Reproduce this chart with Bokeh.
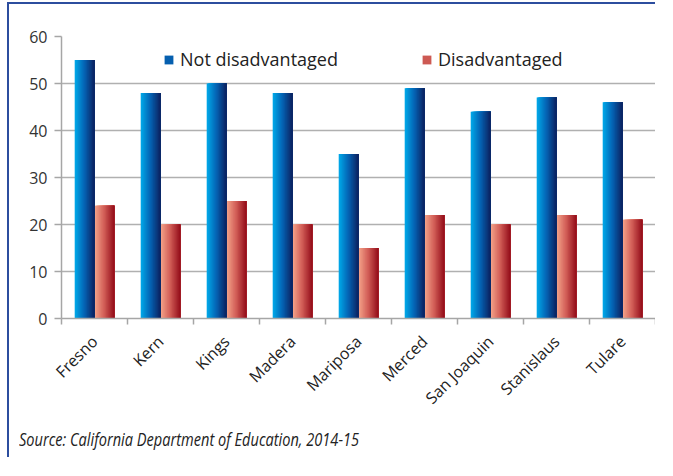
import math
from bokeh.plotting import figure
from bokeh.models import Range1d, FixedTicker, Legend, LegendItem, ColumnDataSource, Div, Spacer
from bokeh.transform import dodge
from bokeh.layouts import column, row
from bokeh.embed import file_html
from bokeh.resources import INLINE

# ---- data ----
counties = ["Fresno", "Kern", "Kings", "Madera", "Mariposa", "Merced",
            "San Joaquin", "Stanislaus", "Tulare"]
not_disadvantaged = [55, 48, 50, 48, 35, 49, 44, 47, 46]
disadvantaged = [24, 20, 25, 20, 15, 22, 20, 22, 21]
y_ticks = [0, 10, 20, 30, 40, 50, 60]
series_names = ["Not disadvantaged", "Disadvantaged"]
source_note = "Source: California Department of Education, 2014-15"

idx = list(range(len(counties)))
src = ColumnDataSource(dict(x=idx, nd=not_disadvantaged, d=disadvantaged))

# ---- styling ----
BLUE_STOPS = [(0, 168, 232), (5, 98, 178), (12, 36, 98)]
RED_STOPS = [(244, 162, 136), (208, 92, 86), (150, 16, 28)]
GRID = "#b0b0b0"
AXIS = "#a6a6a6"
FRAME_BLUE = "#2c4d9e"


def grad(stops, t):
    seg = t * (len(stops) - 1)
    i = min(int(seg), len(stops) - 2)
    f = seg - i
    a, b = stops[i], stops[i + 1]
    c = [round(a[j] + (b[j] - a[j]) * f) for j in range(3)]
    return "#%02x%02x%02x" % tuple(c)


p = figure(width=646, height=415, output_backend="svg", toolbar_location=None,
           x_range=Range1d(-0.5, len(counties) - 0.5), y_range=Range1d(0, 60),
           min_border_left=52, min_border_right=0, min_border_top=32,
           min_border_bottom=95)
p.outline_line_color = None
p.background_fill_color = "white"
p.border_fill_color = "white"

BW = 0.3
N = 24
blue_rs, red_rs = [], []
for k in range(N):
    t = k / (N - 1)
    rb = p.quad(left=dodge("x", -BW + k * BW / N), right=dodge("x", 0.0),
                bottom=0, top="nd", source=src,
                fill_color=grad(BLUE_STOPS, t), line_color=None)
    rr = p.quad(left=dodge("x", k * BW / N), right=dodge("x", BW),
                bottom=0, top="d", source=src,
                fill_color=grad(RED_STOPS, t), line_color=None)
    blue_rs.append(rb)
    red_rs.append(rr)

# axes
p.xaxis.ticker = FixedTicker(ticks=idx, minor_ticks=[i - 0.5 for i in range(len(counties) + 1)])
p.xaxis.major_label_overrides = {i: c for i, c in enumerate(counties)}
p.xaxis.major_label_orientation = math.pi / 4
p.xaxis.major_tick_line_color = None
p.xaxis.major_tick_out = 0
p.xaxis.major_tick_in = 0
p.xaxis.minor_tick_out = 6
p.xaxis.minor_tick_in = 0
p.xaxis.minor_tick_line_color = AXIS
p.xaxis.minor_tick_line_width = 1.5
p.xaxis.axis_line_color = AXIS
p.xaxis.axis_line_width = 1.5
p.xaxis.major_label_standoff = 14
p.xaxis.major_label_text_font = "Open Sans"
p.xaxis.major_label_text_font_size = "16px"
p.xaxis.major_label_text_color = "#222222"

p.yaxis.ticker = FixedTicker(ticks=y_ticks)
p.yaxis.major_tick_out = 7
p.yaxis.major_tick_in = 0
p.yaxis.major_tick_line_color = AXIS
p.yaxis.major_tick_line_width = 1.5
p.yaxis.minor_tick_line_color = None
p.yaxis.axis_line_color = AXIS
p.yaxis.axis_line_width = 1.5
p.yaxis.major_label_standoff = 7
p.yaxis.major_label_text_font = "Open Sans"
p.yaxis.major_label_text_font_size = "16px"
p.yaxis.major_label_text_color = "#333333"

p.xgrid.grid_line_color = None
p.ygrid.ticker = FixedTicker(ticks=y_ticks)
p.ygrid.grid_line_color = GRID
p.ygrid.grid_line_width = 1.5

# legends
def make_legend(label, rend, loc):
    return Legend(items=[LegendItem(label=label, renderers=[rend])], location=loc,
                  orientation="horizontal", border_line_color=None,
                  background_fill_alpha=0, padding=0, margin=0, spacing=0,
                  glyph_width=11, glyph_height=11, label_standoff=6,
                  label_text_font="Open Sans", label_text_font_size="18px",
                  label_text_color="#222222")

p.add_layout(make_legend(series_names[0], blue_rs[N // 2], (102, 247)))
p.add_layout(make_legend(series_names[1], red_rs[N // 2], (360, 247)))

note = Div(text=source_note, width=600, height=30, margin=(8, 0, 0, 10),
           styles={"font-family": "'Open Sans', sans-serif",
                   "font-style": "italic", "font-size": "18px", "color": "#222222",
                   "transform": "scaleX(0.81)", "transform-origin": "left center"})

inner = column(p, note,
               styles={"border-left": "2px solid " + FRAME_BLUE,
                       "border-top": "2px solid " + FRAME_BLUE})
layout = row(Spacer(width=7, height=10), column(Spacer(width=10, height=2), inner))

open("out.html", "w").write(file_html(layout, INLINE))
